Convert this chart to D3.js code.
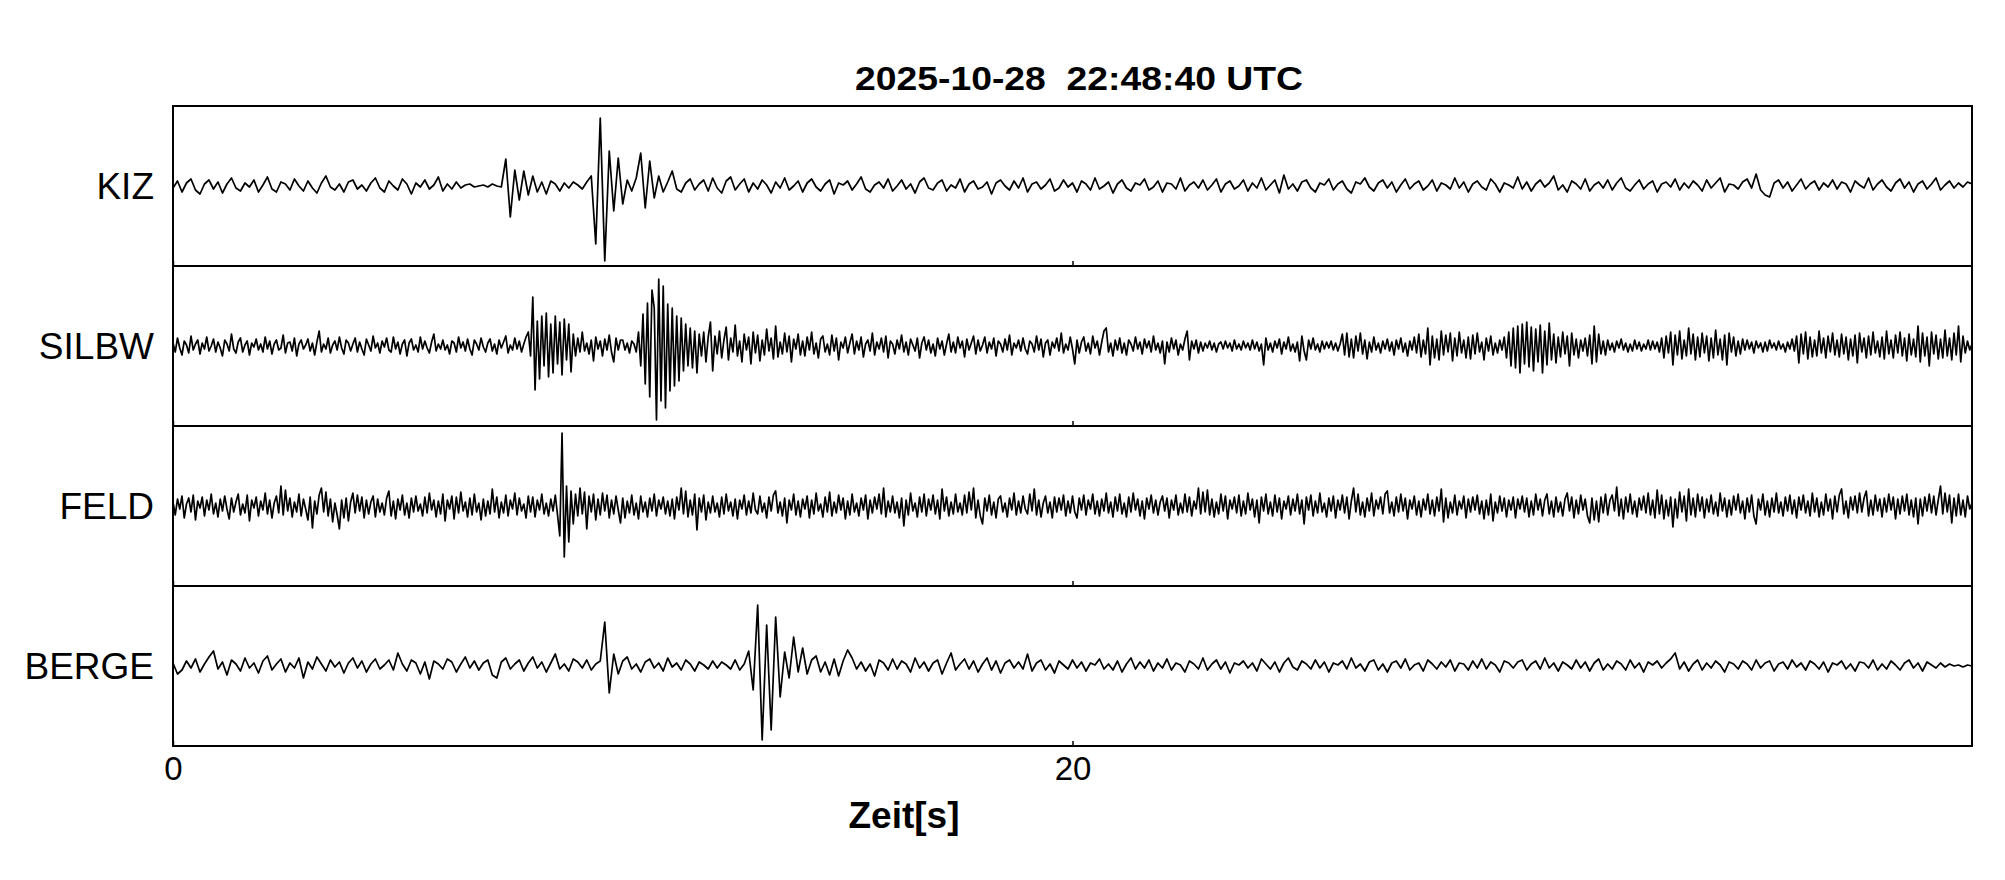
<!DOCTYPE html>
<html>

<head>
    <meta charset="utf-8" />
    <title>Seismogramm</title>
    <script src="https://cdn.jsdelivr.net/npm/d3@7/dist/d3.min.js"></script>
    <style>
        body {
            margin: 0;
            background: #fff;
        }

        text {
            font-family: "Liberation Sans", Arial, Helvetica, sans-serif;
            fill: #000;
        }
    </style>
</head>

<body>
</body>
<script>
    // --- data (amplitudes in screen units, + = up) ---
    var title = "2025-10-28  22:48:40 UTC"
    var xLabel = "Zeit[s]"
    var stations = ["KIZ", "SILBW", "FELD", "BERGE"]
    var xTicks = [0, 20]
    var timeRange = [0, 40]

    // KIZ, one value every 0.1 s
    var kizDt = 0.1
    var kiz = [
        -2, 5, -6, 3, 7, -4, -8, 2, 6, -3,
        4, -7, 2, 8, -2, -5, 3, -1, 6, -6,
        1, 9, -3, -6, 4, 2, -4, 7, 0, -5,
        5, -2, -7, 3, 10, -1, -4, 2, -6, 4,
        6, -3, 1, -5, 3, 8, -2, -6, 5, 0,
        -4, 7, 2, -8, 3, -1, 6, -3, 1, 9,
        -5, 2, -3, 4, -2, 1, 2, -1, 0, 1,
        -1, 2, 0, -1, 27, -31, 16, -14, 15, -9,
        10, -6, 4, -8, 5, 2, -5, 3, -2, 4,
        1, -3, 4, 10, -58, 68, -75, 35, -25, 28,
        -18, 6, -5, 8, 33, -22, 25, -12, 10, -6,
        4, 15, -3, -6, 3, 7, -4, 2, 6, -5,
        8, -2, -7, 5, 9, -4, 2, 7, -6, 3,
        -3, 6, 1, -7, 4, -2, 8, -4, 0, 5,
        -6, 3, 7, -1, -5, 2, 6, -8, 3, 1,
        5, -4, 2, 9, -3, -6, 1, 4, -2, 7,
        -5, 0, 6, -3, 2, -7, 4, 8, -2, -4,
        3, 6, -5, 1, -2, 7, -6, 2, 5, -3,
        -1, 4, -8, 3, 6, 0, -4, 5, -2, 8,
        -6, 2, 4, -3, 1, 7, -5, -2, 6, -1,
        3, -6, 5, 2, -4, 8, -3, 0, 4, -7,
        2, 6, -2, -5, 3, 1, 7, -4, -1, 5,
        -6, 3, 2, -3, 8, -5, 1, 4, -2, 6,
        -4, 1, 7, -6, 2, 5, -3, 0, 6, -5,
        3, -2, 8, -4, 1, 6, -7, 11, -3, 2,
        -5, 4, 6, -2, -6, 3, 1, 7, -4, 2,
        5, -3, -7, 4, 2, 8, -1, -5, 3, 6,
        -2, 4, -6, 1, 7, -3, 2, 5, -4, 0,
        6, -5, 3, 1, -3, 8, -2, 4, -6, 2,
        5, -1, -4, 7, 2, -6, 3, 1, -2, 9,
        -3, 4, -5, 2, 6, -1, 3, 10, -4, 1,
        -6, 5, 2, -3, 7, -5, 1, 4, -2, 6,
        -4, 3, 8, -2, -5, 1, 6, -3, 2, 5,
        -6, 2, 4, -1, 7, -4, 3, -2, 5, 1,
        -5, 6, -2, 3, 8, -6, 2, 1, -3, 4,
        7, -2, 12, -4, -9, -11, 3, 6, -2, 4,
        -5, 1, 7, -3, 2, 5, -4, 3, -1, 6,
        -3, 4, 2, -6, 5, 1, -2, 8, -4, 2,
        6, -1, -5, 3, 7, -2, 4, -6, 2, 5,
        -3, 2, 8, -4, 1, 5, -2, 3, -1, 4,
        2
    ]

    // SILBW, one value every 0.05 s
    var silbwDt = 0.05
    var silbw = [
        3, -6, 8, -2, -9, 5, 1, -7, 10, -4, 2, 6, -8, 3, -3, 9, -5, 0, 7, -6,
        4, -2, -10, 6, 2, -5, 12, -3, -7, 4, 8, -6, 1, 5, -9, 3, -1, 7, -4, 2,
        -6, 9, -3, 5, -8, 2, 6, -4, -2, 11, -7, 3, 4, -5, 8, -10, 2, 6, -3, 1,
        7, -5, 3, -9, 4, 15, -6, 2, -3, 8, -7, 1, 5, -4, 9, -2, -8, 6, 3, -5,
        2, 8, -6, 4, -3, -9, 7, 1, -5, 10, -2, 3, -7, 5, -1, 8, -4, -6, 9, -3,
        4, -8, 2, 6, -10, 3, 7, -4, 1, -6, 9, -3, 5, -2, -7, 4, 12, -5, 2, -3,
        6, -4, 1, -8, 5, 3, -6, 9, -2, 4, -5, 7, -3, -9, 6, 2, -4, 8, -1, -6,
        3, 7, -5, 2, -8, 6, -2, 4, 10, -7, 1, -4, 8, -3, 5, -6, 2, 9, 14, -10,
        49, -44, 25, -33, 30, -20, 33, -31, 22, -27, 30, -18, 24, -29, 27, -14, 22, -26, 12, -10,
        8, -6, 14, -5, 3, -8, 6, -15, 9, -3, 5, -10, 7, -4, 11, -6, -16, 8, -4, 6,
        6, -4, 3, -7, 5, 2, -6, 14, -20, 32, -38, 43, -51, 56, 38, -74, 67, -55, 60, -62,
        42, -45, 38, -40, 30, -35, 28, -25, 22, -20, 18, -22, 15, -27, 12, -10, 14, -16, 9, 24,
        -25, 10, -8, 15, -12, 6, 19, -14, 8, -6, 21, -10, 5, -16, 12, -4, 9, -18, 14, -7,
        11, -15, 6, -9, 17, -5, 8, -13, 20, -11, 4, -8, 13, -6, 10, -16, 7, -3, 12, -9,
        5, -10, 9, -4, 14, -8, 3, -12, 7, 10, -6, 2, -9, 11, -5, 8, -14, 4, -2, 9,
        -7, 3, 12, -8, 5, -4, 9, -11, 2, 6, -5, 13, -9, 4, -3, 8, -6, 10, -12, 5,
        2, -8, 6, -3, 11, -6, 4, -9, 7, 1, -5, 8, -12, 3, 9, -4, 6, -7, 2, -10,
        8, -3, 5, -9, 2, 12, -6, 4, -7, 9, -2, 5, -11, 7, -4, 3, 10, -8, 6, -5,
        1, 9, -7, 4, -3, 8, -10, 5, 2, -6, 7, -4, 11, -9, 3, -2, 6, -5, 8, -3,
        -8, 5, 2, -6, 10, -4, 7, -11, 3, 6, -9, 4, -2, 8, -5, 13, -7, 2, -4, 9,
        -3, -18, 6, -7, 4, 9, -5, 3, -8, 10, -2, 5, -9, 4, 15, 18, -6, 3, -10, 6,
        -4, 8, -7, 3, -9, 6, 2, -5, 9, -3, 4, -8, 7, -2, 5, -6, 10, -4, 3, -7,
        5, -18, 4, -6, 8, -3, 6, -9, 2, -4, 7, 15, -14, 5, -3, 6, -7, 4, -5, 3,
        -2, 5, -4, 3, -6, 2, 4, -3, 5, -2, 3, -5, 6, -3, 2, -4, 5, -2, 3, -4,
        6, -3, 4, -5, 2, -19, 8, -4, 3, -6, 5, -2, 7, -8, 4, -3, 9, -5, 2, -6,
        4, -15, 10, -5, -14, 6, -3, 8, -4, 2, -6, 5, -3, 4, -2, 5, -4, 3, -5, 2,
        12, -9, 13, -11, 7, -12, 10, -5, 13, -8, 6, -13, 4, -6, 9, -4, 3, -7, 5, -3,
        7, -5, 4, -9, 6, -3, 8, -6, 3, -10, 5, -4, 9, -7, 12, -11, 6, -8, 18, -19,
        10, -12, 7, -14, 15, -9, 11, -6, 13, -15, 8, -10, 14, -7, 6, -12, 9, -13, 11, -8,
        13, -6, 4, -14, 8, -5, 10, -9, 3, -7, 6, -4, 9, -12, 14, -20, 18, -22, 20, -27,
        22, -18, 24, -21, 19, -25, 17, -16, 21, -27, 15, -19, 23, -14, 12, -17, 9, -11, 14, -8,
        10, -20, 13, -9, 7, -12, 6, -5, 8, -10, 11, -18, 20, -16, 12, -8, 5, -9, 6, -4,
        3, -6, 5, -2, 7, -4, 3, -6, 2, -5, 6, -3, 4, -5, 2, -3, 6, -4, 5, -3,
        4, -6, 8, -12, 10, -7, 14, -19, 11, -9, 15, -13, 6, -10, 18, -8, 12, -14, 9, -11,
        13, -7, 10, -15, 8, -12, 16, -9, 7, -14, 11, -19, 13, -6, 9, -10, 5, -8, 7, -4,
        6, -3, 4, -7, 5, -2, 3, -6, 4, -5, 6, -2, 3, -4, 5, -3, 2, -6, 4, -3,
        7, -5, 10, -17, 12, -8, 14, -13, 9, -11, 6, -10, 15, -7, 8, -12, 10, -6, 13, -9,
        6, -11, 12, -8, 9, -14, 7, -10, 11, -17, 13, -6, 8, -12, 10, -9, 14, -7, 5, -11,
        9, -13, 15, -8, 6, -12, 11, -7, 14, -10, 8, -15, 12, -9, 7, -11, 20, -16, 13, -10,
        9, -20, 14, -8, 11, -13, 7, -12, 16, -10, 8, -14, 13, -9, 20, -16, 10, -7, 5, -4,
        2
    ]

    // FELD, one value every 0.05 s
    var feldDt = 0.05
    var feld = [
        4, -9, 7, -3, 10, -12, 2, 8, -6, 11, -14, 5, -2, 9, -10, 6, -4, 12, -8, 3,
        -11, 7, -5, 10, -3, -13, 8, -6, 4, 12, -9, 2, -7, 11, -15, 6, -2, 9, -10, 5,
        -4, 13, -8, 6, -12, 3, 10, -7, 20, -9, 16, -5, 8, -11, 4, -6, 12, -10, 7, -3,
        -14, 9, -22, 5, -8, 11, 18, -6, 14, -10, 7, -16, 3, -9, -23, 6, -12, 8, -15, 4,
        13, -7, 11, -5, 9, -12, 6, -8, 4, 10, -11, 7, -6, 3, -9, 8, 15, -10, 5, -13,
        7, -4, 11, -9, 3, -12, 8, -6, 10, -5, 2, -10, 9, -7, 13, -4, 6, -11, 5, -8,
        12, -15, 6, -3, 10, -13, 9, -7, 14, -5, 4, -11, 8, -9, 12, -6, 3, -14, 7, -10,
        5, -8, 17, -6, 9, -12, 4, -7, 11, -10, 6, -3, 13, -9, 8, -5, 2, -12, 10, -6,
        9, -11, 6, -4, 12, -8, 3, -10, 7, -5, 11, -9, -30, 73, -51, 20, -36, 15, -18, 12,
        -10, 18, -8, 14, -23, 10, -6, 12, -14, 7, -9, 13, -5, 11, -12, 6, -8, 10, -4, -17,
        8, -12, 5, -7, 11, -9, 3, -13, 10, -6, 4, -11, 8, -5, 12, -10, 6, -3, 9, -8,
        5, -10, 7, -13, 9, -4, 18, -8, 15, -11, 6, -9, 12, -24, 8, -6, 11, -14, 4, -7,
        10, -6, 3, -11, 9, -8, 12, -5, 4, -10, 7, -13, 6, -3, 11, -9, 5, -7, 13, -4,
        -8, 10, -6, 3, -12, 9, -5, 11, 15, -7, 4, -10, 8, -17, 6, -4, 12, -9, 5, -11,
        7, -3, 10, -12, 6, -8, 13, -5, 2, -11, 9, -6, 14, -10, 4, -7, 11, -4, 8, -13,
        5, -9, 12, -6, 3, -10, 8, -4, 11, -13, 6, -7, 9, -3, 12, -8, 18, -11, 5, -6,
        10, -7, 4, -12, 8, -20, 6, -9, 13, -5, 3, -11, 9, -6, 12, -10, 7, -4, 11, -8,
        6, -13, 17, -5, 9, -10, 4, -8, 12, -6, 3, -9, 11, -7, 14, -4, 18, -12, 6, -10,
        -18, 8, -5, 11, -9, 4, -12, 7, 10, -6, 3, -11, 8, -4, 13, -9, 5, -7, 10, -3,
        -8, 12, -5, 17, -9, 6, -11, 3, 10, -7, 4, -12, 9, -6, 8, -4, 11, -10, 5, -7,
        10, -6, -12, 8, -4, 11, -9, 6, -3, 12, -8, 5, -10, 7, -5, 13, -7, 4, -11, 9,
        -5, 12, -8, 3, -11, 9, -6, 13, -4, 7, -10, 5, -13, 8, -3, 11, -7, 6, -9, 4,
        10, -5, 8, -12, 6, -4, 11, -9, 3, -7, 12, -6, 9, -10, 5, -3, 18, -8, 14, -6,
        16, -9, 7, -11, 4, -8, 12, -5, 10, -13, 6, -3, 9, -7, 11, -10, 5, -8, 13, -4,
        7, -11, 6, -17, 9, -5, 12, -8, 4, -10, 11, -6, 8, -13, 5, -3, 10, -9, 7, -5,
        12, -8, 6, -18, 9, -4, 11, -10, 5, -7, 13, -6, 3, -11, 8, -5, 10, -12, 6, -4,
        11, -7, 9, -13, 5, 18, -6, 12, -9, 4, -11, 8, -5, 13, -10, 6, -3, 9, -8, 12,
        15, -7, 4, -10, 9, -6, 12, -5, 8, -13, 6, -3, 10, -9, 5, -11, 7, -4, 12, -8,
        6, -10, 9, -5, 17, -16, 8, -12, 4, -7, 11, -9, 5, -3, 10, -12, 7, -6, 9, -4,
        11, -8, 5, -13, 6, -9, 12, -15, 4, -7, 10, -5, 8, -11, 6, -4, 9, -12, 7, -3,
        10, -6, 8, -11, 5, -9, 12, -4, 7, -10, 6, 12, -8, 5, -11, 9, -6, 4, -10, 7,
        13, -5, 9, -12, 6, -8, 11, -4, 7, -10, -17, 8, -14, 5, -16, 9, -7, 12, -9, 6,
        11, -5, 19, -10, 7, -13, 9, -6, 12, -8, 5, -11, 8, -4, 10, -7, 13, -9, 6, -12,
        16, -8, 11, -13, 6, -10, 9, -21, 7, -12, 14, -6, 10, -15, 17, -9, 8, -11, 12, -5,
        9, -12, 7, -6, 11, -8, 4, -10, 13, -5, 8, -11, 6, -9, 10, -4, 12, -7, 5, -13,
        8, -6, 11, -10, -18, 7, -4, 12, -9, 5, -11, 8, -6, 13, -7, 4, -10, 9, -5, 11,
        -8, 6, -12, 9, -4, 11, -7, 5, -10, 13, -6, 8, -11, 4, -9, 12, -5, 7, -13, 10,
        -6, 11, 17, -8, 5, -12, 9, -4, 10, -7, 13, -6, 8, 15, -10, 6, -9, 11, -5, 7,
        -11, 8, -6, 12, -4, 9, -13, 7, -8, 10, -5, 12, -9, 6, -11, 8, -18, 7, -10, 9,
        -5, 12, -7, 10, -9, 6, 20, -8, 13, -6, 11, -17, 8, -10, 12, -9, 6, -11, 10, -3,
        3
    ]

    // BERGE, one value every 0.1 s
    var bergeDt = 0.1
    var berge = [
        3, -8, -4, 5, -2, 7, -6, 2, 9, 15,
        -3, 4, -9, 6, 2, -5, 8, -2, 3, -7,
        5, 10, -4, 2, 7, -6, 3, -2, 8, -12,
        4, -3, 9, 2, -5, 6, -1, 4, -7, 3,
        8, -2, 5, -6, 2, 7, -3, 1, 6, -4,
        13, 2, -5, 6, 3, -8, 4, -13, 5, 2,
        -3, 7, 4, -6, 2, 9, -2, 5, -4, 3,
        6, -9, -12, 4, 8, -3, 2, 6, -5, 3,
        9, -2, 4, -6, 3, 12, -3, 2, -5, 7,
        4, -2, 6, -4, 2, 5, 44, -27, 12, -8,
        5, 9, -3, 2, -6, 4, 7, -2, 3, -5,
        8, -1, 3, -4, 6, 2, -5, 4, 1, -3,
        5, -2, 4, 1, -3, 6, -4, 2, 15, -24,
        61, -74, 41, -64, 49, -31, 14, -12, 29, -6,
        18, -8, 6, 10, -6, 4, -9, 7, -10, 5,
        16, 8, -3, 4, -5, 2, -10, 6, 3, -4,
        7, -3, 5, 2, -6, 8, -2, 4, -5, 3,
        6, -8, 3, 13, -4, 2, 7, -3, 5, -6,
        2, 8, -4, 5, -7, 3, 6, -2, 4, -3,
        12, -5, 3, 6, -4, 2, -7, 5, 1, -3,
        6, -2, 4, -5, 3, 1, 7, -3, 2, -4,
        5, -6, 2, 8, -3, 4, -2, 6, -5, 3,
        -2, 7, -4, 3, 1, -6, 5, 2, -3, 8,
        -4, 2, 6, -3, 4, -7, 3, 1, 5, -2,
        3, -5, 7, 2, -3, 4, -6, 3, 8, -1,
        -4, 5, 2, -3, 6, -2, 4, -6, 3, 1,
        5, -3, 8, -2, 2, -5, 4, 6, -4, 2,
        -6, 3, 5, -2, 7, -4, 1, 3, -5, 6,
        2, -3, 4, -1, 6, -5, 3, 2, -4, 5,
        -2, 7, -3, 4, 1, -6, 5, 3, -2, 4,
        6, -4, 2, 5, -3, 8, -2, 3, -5, 4,
        1, -3, 6, -2, 4, -5, 3, 7, -4, 2,
        -3, 5, 2, -4, 6, -2, 3, -6, 4, 1,
        5, -2, 3, 7, 13, -3, 4, -5, 2, 6,
        -4, 3, -2, 5, 1, -6, 4, 2, -3, 5,
        2, -4, 6, -2, 3, 5, -5, 2, 4, -3,
        6, -1, 3, -4, 5, 2, -3, 4, -6, 3,
        1, 5, -3, 2, -5, 4, 3, -2, 6, -4,
        2, -3, 5, 1, -4, 3, 6, -2, 3, -5,
        4, 1, -2, 3, -1, 2, 0, 1, -1, 1,
        0
    ]

    var traces = [
        { name: stations[0], dt: kizDt, values: kiz },
        { name: stations[1], dt: silbwDt, values: silbw },
        { name: stations[2], dt: feldDt, values: feld },
        { name: stations[3], dt: bergeDt, values: berge }
    ]

    var config = {
        WIDTH: 2005,
        HEIGHT: 880,
        plot: {
            LEFT: 173,
            RIGHT: 1972,
            TOP: 106,
            PANEL_HEIGHT: 160,
            AMP: 80
        },
        font: {
            TITLE: 33,
            LABEL: 37,
            TICK: 33,
            AXIS: 37
        }
    }

    var svg = d3.select("body")
        .append("svg")
        .attr("width", config.WIDTH)
        .attr("height", config.HEIGHT)
        .style("background", "#fff")

    var x = d3.scaleLinear()
        .domain(timeRange)
        .range([config.plot.LEFT, config.plot.RIGHT])

    function panelTop(i) {
        return config.plot.TOP + i * config.plot.PANEL_HEIGHT
    }

    function drawPanel(trace, i) {
        var top = panelTop(i)
        var bottom = top + config.plot.PANEL_HEIGHT
        var y = d3.scaleLinear()
            .domain([-config.plot.AMP, config.plot.AMP])
            .range([bottom, top])

        var g = svg.append("g").attr("class", "panel")

        g.append("clipPath").attr("id", "clip" + i)
            .append("rect")
            .attr("x", config.plot.LEFT).attr("y", top)
            .attr("width", config.plot.RIGHT - config.plot.LEFT)
            .attr("height", config.plot.PANEL_HEIGHT)

        var line = d3.line()
            .x((d, j) => x(j * trace.dt))
            .y(d => y(d))

        g.append("path")
            .datum(trace.values)
            .attr("clip-path", "url(#clip" + i + ")")
            .attr("d", line)
            .style("fill", "none")
            .style("stroke", "#000")
            .style("stroke-width", 1.7)
            .style("stroke-linejoin", "round")

        // inward ticks at the bottom of every panel
        var axis = d3.axisBottom(x)
            .tickValues(xTicks)
            .tickSizeInner(-5)
            .tickSizeOuter(0)
            .tickPadding(11)
            .tickFormat(d3.format("d"))
        var ax = g.append("g")
            .attr("transform", "translate(0," + bottom + ")")
            .call(axis)
        ax.select(".domain").remove()
        ax.selectAll(".tick line").attr("stroke", "#000").attr("stroke-width", 1.5)
        ax.selectAll(".tick text")
            .style("font-size", config.font.TICK + "px")
            .style("font-family", "'Liberation Sans', Arial, sans-serif")
            .attr("fill", "#000")
        if (i < traces.length - 1) {
            ax.selectAll(".tick text").remove()
        }

        g.append("rect")
            .attr("x", config.plot.LEFT).attr("y", top)
            .attr("width", config.plot.RIGHT - config.plot.LEFT)
            .attr("height", config.plot.PANEL_HEIGHT)
            .style("fill", "none")
            .style("stroke", "#000")
            .style("stroke-width", 2)

        g.append("text")
            .attr("x", config.plot.LEFT - 19)
            .attr("y", y(0) + 13)
            .attr("text-anchor", "end")
            .style("font-size", config.font.LABEL + "px")
            .text(trace.name)
    }

    traces.forEach(drawPanel)

    svg.append("text")
        .attr("x", 1079)
        .attr("y", 90)
        .attr("text-anchor", "middle")
        .attr("textLength", 448)
        .attr("lengthAdjust", "spacingAndGlyphs")
        .style("white-space", "pre")
        .style("font-size", config.font.TITLE + "px")
        .style("font-weight", "bold")
        .text(title)

    svg.append("text")
        .attr("x", 904)
        .attr("y", 828)
        .attr("text-anchor", "middle")
        .style("font-size", config.font.AXIS + "px")
        .style("font-weight", "bold")
        .text(xLabel)
</script>

</html>
